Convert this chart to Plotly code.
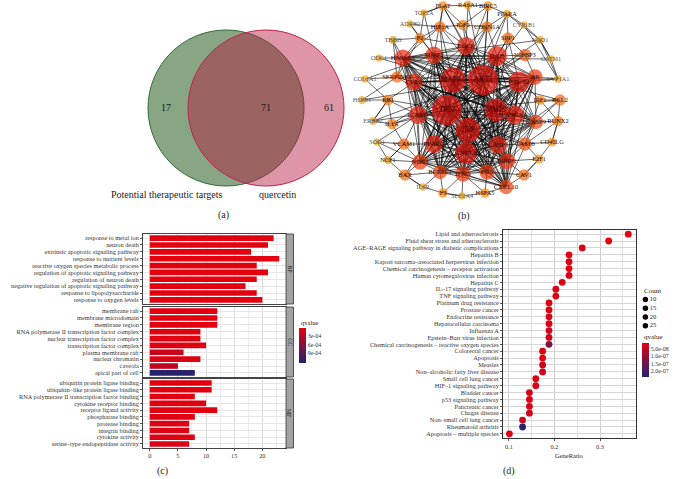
import plotly.graph_objects as go

W, H = 676, 479
SERIF = "Liberation Serif"


def px(x):
    return x / W


def py(y):
    return 1 - y / H


# ---------------- (a) Venn ----------------
venn_sets = ["Potential therapeutic targets", "quercetin"]
venn_counts = [17, 71, 61]  # targets only, shared, quercetin only

# ---------------- (b) PPI network ----------------
node_names = [
    "PLAT", "RASA1", "BIRC5", "TOP2A", "PPARA", "ADRB2", "HIF1A", "IGF2", "CDKN1A", "CYP1B1",
    "THBD", "F2", "EGFR", "SPP1", "NQO1", "HMOX1", "MMP2", "IL1B", "IGFBP3", "GSTM1",
    "ODC1", "COL1A1", "SERPINE1", "CCL2", "MAPK1", "AKT1", "PTGS2", "AR", "CYP1A1", "HSPB1",
    "RB1", "TP53", "MMP9", "ICAM1", "IRF1", "BCL2", "ERBB2", "IL1A", "HSP90AA1", "CASP9",
    "RUNX2", "JUN", "SOD1", "VCAM1", "PPARG", "CXCL8", "CASP3", "CASP8", "CD40LG", "NCF1",
    "NOS3", "MMP1", "E2F1", "BAX", "BCL2L1", "IFNG", "FOS", "CAV1", "IL6R", "F3",
    "SLC2A4", "HSPA5", "CXCL10",
]
node_x = [
    443, 468, 488, 424, 507, 410, 440, 463, 487, 524,
    393, 420, 466, 508, 540, 403, 434, 497, 525, 551,
    379, 365, 397, 414, 453, 483, 519, 535, 558, 362,
    388, 447, 496, 418, 540, 560, 373, 392, 515, 536,
    558, 468, 377, 404, 434, 466, 498, 525, 552, 388,
    420, 507, 539, 405, 440, 463, 487, 524, 423, 443,
    462, 485, 506,
]
node_y = [
    6, 5, 6, 13, 14, 24, 27, 25, 27, 25,
    40, 38, 46, 38, 40, 58, 55, 56, 55, 59,
    58, 79, 77, 82, 80, 80, 82, 77, 79, 100,
    100, 110, 110, 115, 100, 100, 121, 124, 115, 122,
    121, 130, 142, 144, 144, 153, 145, 144, 142, 160,
    162, 161, 159, 175, 172, 174, 172, 175, 187, 193,
    196, 193, 187,
]
node_degree = [
    12, 10, 12, 7, 10, 7, 16, 14, 16, 7,
    9, 14, 30, 16, 9, 28, 28, 34, 18, 7,
    7, 7, 16, 28, 46, 56, 36, 24, 8, 8,
    14, 56, 40, 30, 12, 16, 8, 14, 32, 22,
    14, 44, 7, 16, 30, 38, 30, 20, 11, 10,
    24, 26, 11, 16, 22, 24, 24, 16, 7, 12,
    7, 12, 22,
]
core_degree = 22  # hub genes, all linked to one another
peripheral_links = {
    "PLAT": ["IGF2", "HIF1A", "TOP2A", "MMP2", "AKT1", "EGFR"],
    "RASA1": ["PLAT", "BIRC5", "EGFR", "AKT1"],
    "BIRC5": ["IGF2", "CDKN1A", "PPARA", "AKT1", "TP53"],
    "TOP2A": ["PLAT", "F2", "TP53"],
    "PPARA": ["CDKN1A", "SPP1", "PPARG", "AKT1", "NQO1"],
    "ADRB2": ["F2", "HIF1A", "MAPK1"],
    "HIF1A": ["F2", "IGF2", "EGFR", "AKT1", "MAPK1", "TP53", "HMOX1"],
    "IGF2": ["EGFR", "AKT1", "CDKN1A"],
    "CDKN1A": ["IL1B", "AKT1", "TP53", "EGFR", "MAPK1"],
    "CYP1B1": ["NQO1", "CYP1A1", "AKT1", "PPARA"],
    "THBD": ["F2", "HMOX1", "SERPINE1", "ICAM1"],
    "F2": ["MMP2", "HMOX1", "SERPINE1", "EGFR"],
    "SPP1": ["IL1B", "IGFBP3", "AKT1", "MMP9", "PTGS2"],
    "NQO1": ["GSTM1", "CYP1A1", "HMOX1", "AKT1"],
    "IGFBP3": ["AKT1", "TP53", "IL1B", "AR"],
    "GSTM1": ["CYP1A1", "NQO1", "HMOX1"],
    "ODC1": ["HMOX1", "MAPK1"],
    "COL1A1": ["SERPINE1", "MMP2", "RB1"],
    "SERPINE1": ["CCL2", "HMOX1", "MMP9", "TP53", "AKT1"],
    "CYP1A1": ["AR", "PTGS2", "AKT1"],
    "HSPB1": ["RB1", "SERPINE1", "AKT1"],
    "RB1": ["ICAM1", "CCL2", "TP53", "IL1A", "ERBB2"],
    "IRF1": ["BCL2", "CASP8", "IL1B", "RUNX2"],
    "BCL2": ["CASP9", "RUNX2", "AKT1", "TP53", "CASP3"],
    "ERBB2": ["IL1A", "RB1", "AKT1", "TP53"],
    "IL1A": ["ICAM1", "VCAM1", "TP53", "IL1B"],
    "RUNX2": ["CASP9", "CD40LG", "CASP8"],
    "SOD1": ["VCAM1", "NCF1", "ICAM1", "NOS3"],
    "VCAM1": ["ICAM1", "PPARG", "NOS3", "NCF1"],
    "CASP8": ["CASP3", "JUN", "TP53", "MMP1"],
    "CD40LG": ["CASP8", "E2F1", "RUNX2"],
    "NCF1": ["NOS3", "BAX", "VCAM1"],
    "E2F1": ["CAV1", "MMP1", "CASP8"],
    "BAX": ["NOS3", "BCL2L1", "IL6R", "TP53"],
    "CAV1": ["CXCL10", "MMP1", "E2F1", "FOS"],
    "IL6R": ["F3", "BAX", "BCL2L1"],
    "F3": ["BCL2L1", "IFNG", "SLC2A4"],
    "SLC2A4": ["F3", "HSPA5", "IFNG"],
    "HSPA5": ["FOS", "CXCL10", "IFNG"],
}

# ---------------- (c) GO enrichment ----------------
bp_terms = [
    "response to metal ion", "neuron death", "extrinsic apoptotic signaling pathway",
    "response to nutrient levels", "reactive oxygen species metabolic process",
    "regulation of apoptotic signaling pathway", "regulation of neuron death",
    "negative regulation of apoptotic signaling pathway", "response to lipopolysaccharide",
    "response to oxygen levels",
]
bp_counts = [22, 21, 18, 23, 19, 21, 19, 17, 19, 20]
bp_q = [1.2e-5, 2.0e-5, 2.4e-5, 1.0e-5, 3.0e-5, 1.5e-5, 2.5e-5, 3.2e-5, 2.6e-5, 2.0e-5]

cc_terms = [
    "membrane raft", "membrane microdomain", "membrane region",
    "RNA polymerase II transcription factor complex", "nuclear transcription factor complex",
    "transcription factor complex", "plasma membrane raft", "nuclear chromatin", "caveola",
    "apical part of cell",
]
cc_counts = [12, 12, 12, 9, 9, 10, 6, 9, 5, 8]
cc_q = [2.0e-5, 2.0e-5, 2.2e-5, 4.0e-5, 4.5e-5, 5.0e-5, 1.8e-4, 8.0e-5, 2.4e-4, 1.2e-3]

mf_terms = [
    "ubiquitin protein ligase binding", "ubiquitin–like protein ligase binding",
    "RNA polymerase II transcription factor binding", "cytokine receptor binding",
    "receptor ligand activity", "phosphatase binding", "protease binding", "integrin binding",
    "cytokine activity", "serine–type endopeptidase activity",
]
mf_counts = [11, 11, 8, 10, 12, 8, 7, 7, 8, 7]
mf_q = [3.0e-5, 3.0e-5, 5.0e-5, 4.0e-5, 2.0e-5, 6.0e-5, 7.0e-5, 7.0e-5, 6.0e-5, 8.0e-5]

go_ticks = [3e-4, 6e-4, 9e-4]

# ---------------- (d) KEGG enrichment ----------------
kegg_terms = [
    "Lipid and atherosclerosis", "Fluid shear stress and atherosclerosis",
    "AGE–RAGE signaling pathway in diabetic complications", "Hepatitis B",
    "Kaposi sarcoma–associated herpesvirus infection",
    "Chemical carcinogenesis – receptor activation", "Human cytomegalovirus infection",
    "Hepatitis C", "IL–17 signaling pathway", "TNF signaling pathway",
    "Platinum drug resistance", "Prostate cancer", "Endocrine resistance",
    "Hepatocellular carcinoma", "Influenza A", "Epstein–Barr virus infection",
    "Chemical carcinogenesis – reactive oxygen species", "Colorectal cancer", "Apoptosis",
    "Measles", "Non–alcoholic fatty liver disease", "Small cell lung cancer",
    "HIF–1 signaling pathway", "Bladder cancer", "p53 signaling pathway",
    "Pancreatic cancer", "Chagas disease", "Non–small cell lung cancer",
    "Rheumatoid arthritis", "Apoptosis – multiple species",
]
kegg_ratio = [
    0.362, 0.319, 0.261, 0.232, 0.232, 0.232, 0.232, 0.217, 0.203, 0.203,
    0.188, 0.188, 0.188, 0.188, 0.188, 0.188, 0.188, 0.174, 0.174, 0.174,
    0.174, 0.159, 0.159, 0.145, 0.145, 0.145, 0.145, 0.130, 0.130, 0.101,
]
kegg_count = [
    25, 22, 18, 16, 16, 16, 16, 15, 14, 14,
    13, 13, 13, 13, 13, 13, 13, 12, 12, 12,
    12, 11, 11, 10, 10, 10, 10, 9, 9, 7,
]
kegg_q = [
    2e-9, 4e-9, 1.5e-8, 1.0e-8, 2.6e-8, 1.2e-8, 3.0e-8, 2.0e-8, 1.8e-8, 1.0e-8,
    1.5e-8, 2.0e-8, 2.5e-8, 2.2e-8, 3.3e-8, 3.6e-8, 1.25e-7, 2.4e-8, 1.0e-8, 3.5e-8,
    3.0e-8, 2.3e-8, 1.7e-8, 2.7e-8, 2.1e-8, 3.2e-8, 3.4e-8, 3.8e-8, 2.3e-7, 1.9e-8,
]
kegg_ticks = [5e-8, 1e-7, 1.5e-7, 2e-7]
count_levels = [10, 15, 20, 25]

Q_SCALE = [[0, "#1F2370"], [1, "#E3000F"]]
NODE_SCALE = [[0, "#F4AA1E"], [0.15, "#F28A12"], [0.33, "#EE5A0F"], [0.6, "#E72A0E"], [1, "#E0120C"]]

fig = go.Figure()

# (a) Venn counts
fig.add_trace(go.Scatter(
    x=[166, 266, 329], y=[108, 108, 108], text=[str(c) for c in venn_counts],
    mode="text", textfont=dict(family=SERIF, size=10, color="#1a1a1a"),
    xaxis="x", yaxis="y", hoverinfo="skip",
))

# (b) network edges + nodes
idx = {n: i for i, n in enumerate(node_names)}
core = [n for n, d in zip(node_names, node_degree) if d >= core_degree]
edges = [(a, b) for i, a in enumerate(core) for b in core[i + 1:]]
for src, dsts in peripheral_links.items():
    edges += [(src, d) for d in dsts]
ex, ey = [], []
for a, b in edges:
    ex += [node_x[idx[a]], node_x[idx[b]], None]
    ey += [node_y[idx[a]], node_y[idx[b]], None]
fig.add_trace(go.Scatter(
    x=ex, y=ey, mode="lines", line=dict(color="rgba(0,0,0,0.85)", width=0.7),
    xaxis="x2", yaxis="y2", hoverinfo="skip",
))
fig.add_trace(go.Scatter(
    x=node_x, y=node_y, mode="markers+text", text=node_names,
    marker=dict(size=[4 + 0.47 * d for d in node_degree], color=node_degree,
                colorscale=NODE_SCALE, cmin=7, cmax=40, line=dict(width=0)),
    textfont=dict(family=SERIF, size=[6 + 0.03 * d for d in node_degree],
                  color=["#555555" if d < 10 else "#2a0808" for d in node_degree]),
    textposition="middle center", xaxis="x2", yaxis="y2",
))

# (c) GO bars
panels = [
    (bp_terms, bp_counts, bp_q, 3, 234, 304, "BP"),
    (cc_terms, cc_counts, cc_q, 4, 307, 377, "CC"),
    (mf_terms, mf_counts, mf_q, 5, 379, 448, "MF"),
]
for terms, counts, qs, i, top, bottom, name in panels:
    fig.add_trace(go.Bar(
        x=counts, y=terms, orientation="h", width=0.82,
        marker=dict(color=[-q for q in qs], coloraxis="coloraxis", line=dict(width=0)),
        xaxis=f"x{i}", yaxis=f"y{i}",
    ))

# (d) KEGG dots
fig.add_trace(go.Scatter(
    x=kegg_ratio, y=kegg_terms, mode="markers",
    marker=dict(size=6.8, color=[-q for q in kegg_q], coloraxis="coloraxis2", line=dict(width=0)),
    xaxis="x6", yaxis="y6",
))
fig.add_trace(go.Scatter(
    x=[0.15] * len(count_levels), y=count_levels, mode="markers+text",
    text=[str(c) for c in count_levels], textposition="middle right",
    marker=dict(size=5.5, color="black"),
    textfont=dict(family=SERIF, size=6.5, color="#222"),
    xaxis="x7", yaxis="y7", hoverinfo="skip",
))

hidden = dict(visible=False, fixedrange=True)
layout = dict(
    width=W, height=H, margin=dict(l=0, r=0, t=0, b=0),
    paper_bgcolor="white", plot_bgcolor="white", showlegend=False,
    font=dict(family=SERIF, color="#222"),
    xaxis=dict(domain=[0, px(345)], range=[0, 345], anchor="y", **hidden),
    yaxis=dict(domain=[py(230), 1], range=[230, 0], anchor="x", **hidden),
    xaxis2=dict(domain=[px(345), px(590)], range=[345, 590], anchor="y2", **hidden),
    yaxis2=dict(domain=[py(225), 1], range=[225, 0], anchor="x2", **hidden),
    xaxis7=dict(domain=[px(640), px(676)], range=[0, 1], anchor="y7", **hidden),
    yaxis7=dict(domain=[py(330), py(295)], range=[27.5, 7.5], anchor="x7", **hidden),
    coloraxis=dict(
        colorscale=Q_SCALE, cmin=-1.25e-3, cmax=-2.5e-5,
        colorbar=dict(
            x=px(299), xanchor="left", xpad=0, y=py(345.5), yanchor="middle", ypad=0,
            len=35, lenmode="pixels", thickness=7, outlinewidth=0, ticks="",
            tickvals=[-t for t in go_ticks], ticktext=[f"{t:.0e}" for t in go_ticks],
            tickfont=dict(family=SERIF, size=6, color="#333"),
        ),
    ),
    coloraxis2=dict(
        colorscale=Q_SCALE, cmin=-2.4e-7, cmax=-1e-8,
        colorbar=dict(
            x=px(642), xanchor="left", xpad=0, y=py(360), yanchor="middle", ypad=0,
            len=34, lenmode="pixels", thickness=7, outlinewidth=0, ticks="",
            tickvals=[-t for t in kegg_ticks], ticktext=[f"{t:.1e}" for t in kegg_ticks],
            tickfont=dict(family=SERIF, size=6, color="#333"),
        ),
    ),
)

tick_font = dict(family=SERIF, size=6.3, color="#333")
for terms, counts, qs, i, top, bottom, name in panels:
    last = i == 5
    layout[f"xaxis{i}"] = dict(
        domain=[px(143), px(286)], range=[-1.2, 24.2], anchor=f"y{i}",
        tickvals=[0, 5, 10, 15, 20], showticklabels=last, tickfont=tick_font,
        ticks="outside" if last else "", ticklen=2, tickcolor="#555",
        showgrid=True, gridcolor="#dcdcdc", gridwidth=0.6, zeroline=False,
        minor=dict(tick0=0, dtick=2.5, showgrid=True, gridcolor="#ececec", gridwidth=0.5),
        showline=True, mirror=True, linecolor="#444", linewidth=0.8, fixedrange=True,
    )
    layout[f"yaxis{i}"] = dict(
        domain=[py(bottom), py(top)], range=[len(terms) - 0.4, -0.6], anchor=f"x{i}",
        type="category", tickmode="array", tickvals=terms, ticktext=terms,
        tickfont=tick_font, ticks="outside", ticklen=2, tickcolor="#555",
        showgrid=True, gridcolor="#e6e6e6", gridwidth=0.5,
        showline=True, mirror=True, linecolor="#444", linewidth=0.8, fixedrange=True,
    )

layout["xaxis6"] = dict(
    domain=[px(503), px(636)], range=[0.087, 0.379], anchor="y6",
    tickvals=[0.1, 0.2, 0.3], ticktext=["0.1", "0.2", "0.3"], tickfont=tick_font,
    ticks="outside", ticklen=2, tickcolor="#555",
    showgrid=True, gridcolor="#cfcfcf", gridwidth=0.7, zeroline=False,
    minor=dict(tick0=0.05, dtick=0.05, showgrid=True, gridcolor="#dedede", gridwidth=0.5),
    showline=True, mirror=True, linecolor="#333", linewidth=0.9, fixedrange=True,
)
layout["yaxis6"] = dict(
    domain=[py(438), py(230)], range=[len(kegg_terms) - 0.4, -0.6], anchor="x6",
    type="category", tickmode="array", tickvals=kegg_terms, ticktext=kegg_terms,
    tickfont=tick_font, ticks="outside", ticklen=2, tickcolor="#555",
    showgrid=True, gridcolor="#d6d6d6", gridwidth=0.6,
    showline=True, mirror=True, linecolor="#333", linewidth=0.9, fixedrange=True,
)

fig.update_layout(**layout)

# Venn circles
fig.add_shape(type="circle", xref="x", yref="y", x0=148, x1=304, y0=30, y1=186,
              fillcolor="#88A684", line=dict(color="#2F6B3A", width=1), layer="below")
fig.add_shape(type="circle", xref="x", yref="y", x0=188, x1=344, y0=30, y1=186,
              fillcolor="rgba(180,20,60,0.45)", line=dict(color="#C21E4C", width=1), layer="below")

# facet strips
for terms, counts, qs, i, top, bottom, name in panels:
    fig.add_shape(type="rect", xref="paper", yref="paper", x0=px(286), x1=px(293.5),
                  y0=py(bottom), y1=py(top), fillcolor="#a3a3a3",
                  line=dict(color="#333", width=0.8))


def label(text, x, y, size=7, xanchor="center", angle=0, color="#222"):
    fig.add_annotation(text=text, x=px(x), y=py(y), xref="paper", yref="paper",
                       showarrow=False, xanchor=xanchor, yanchor="middle", textangle=angle,
                       font=dict(family=SERIF, size=size, color=color))


label(venn_sets[0], 167, 194, size=10)
label(venn_sets[1], 277, 194, size=10)
label("(a)", 223, 215, size=10)
label("(b)", 464, 216, size=10)
label("(c)", 162, 471, size=10)
label("(d)", 509, 471, size=10)
for terms, counts, qs, i, top, bottom, name in panels:
    label(name, 289.8, (top + bottom) / 2, size=6, angle=90, color="#1a1a1a")
label("GeneRatio", 569, 455, size=6.5)
label("qvalue", 299, 322, size=6.5, xanchor="left")
label("Count", 642, 291, size=7, xanchor="left")
label("qvalue", 642, 337, size=7, xanchor="left")

fig.write_html("out.html", config={"displayModeBar": False},
               post_script="document.body.style.margin = '0';")
